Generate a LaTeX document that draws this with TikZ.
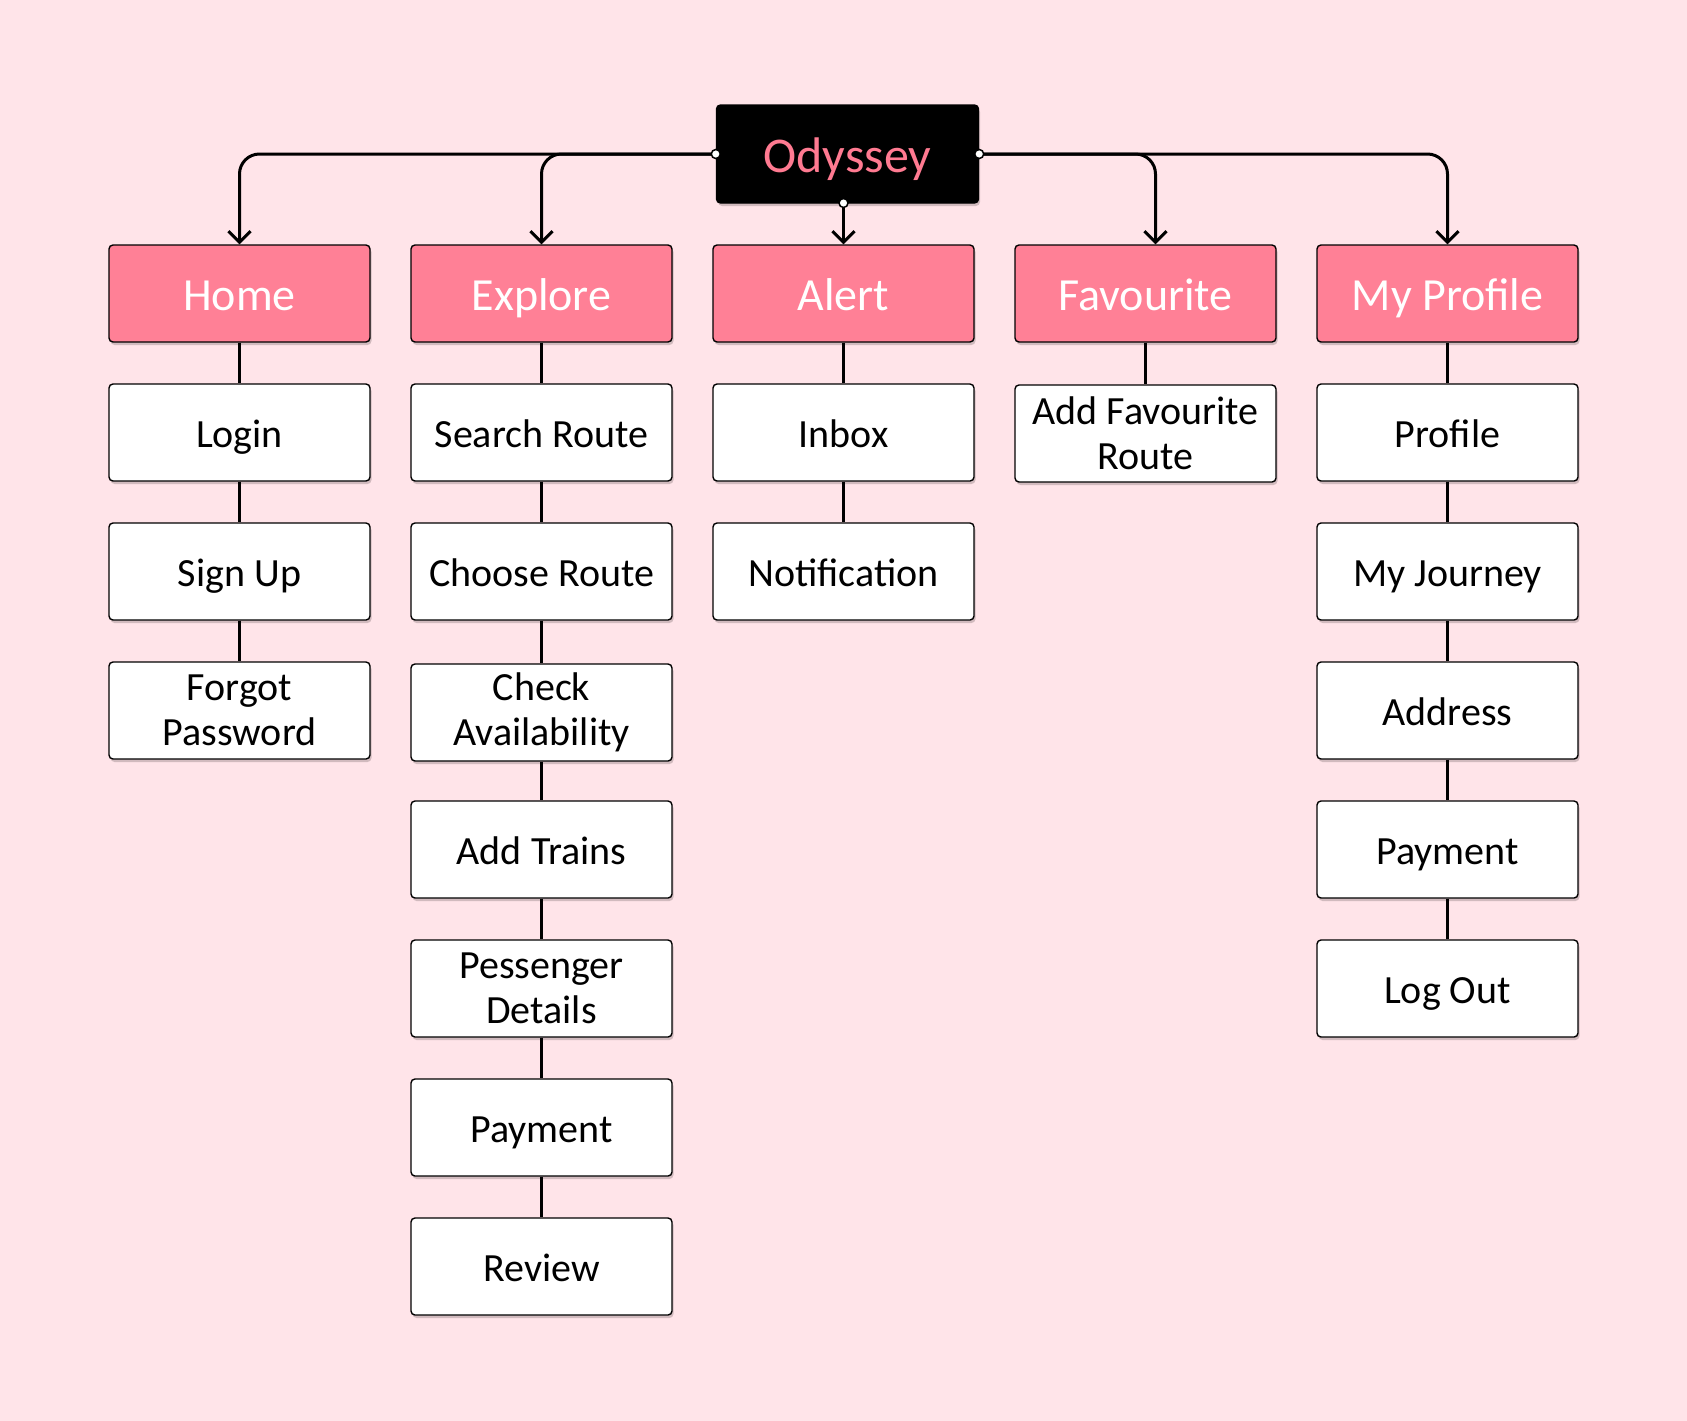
\documentclass[tikz,border=0pt]{standalone}
\usepackage{fontspec}
\setmainfont{Carlito}
\usetikzlibrary{arrows.meta,shadows}
\definecolor{bgpink}{RGB}{255,228,233}
\definecolor{hdrpink}{RGB}{255,128,150}
\definecolor{rootpink}{RGB}{255,122,145}
\begin{document}
\begin{tikzpicture}[x=1pt,y=-1pt,
 box/.style={draw=black, line width=1.4pt, rounded corners=4pt, minimum width=261pt, minimum height=97pt, inner sep=0pt, align=center, drop shadow={shadow xshift=1.5pt,shadow yshift=-3pt,opacity=0.18,fill=black}},
 sub/.style={box, fill=white, text=black, font=\fontsize{40}{45}\selectfont},
 one/.style={text height=30pt, text depth=0pt},
 hdr/.style={box, text height=34.5pt, text depth=0pt, fill=hdrpink, text=white, font=\fontsize{46}{50}\selectfont},
 rootbox/.style={box, text height=37.5pt, text depth=0pt, fill=black, text=rootpink, minimum width=262pt, minimum height=98pt, font=\fontsize{50}{54}\selectfont},
 link/.style={line width=3pt},
 arr/.style={line width=3pt, rounded corners=20pt, -{Straight Barb[length=11pt,width=22pt]}},
 dot/.style={circle, draw=black, fill=white, line width=1.5pt, minimum size=9pt, inner sep=0pt}]
\fill[bgpink] (0,0) rectangle (1687,1421);
\useasboundingbox (0,0) rectangle (1687,1421);

\node[rootbox] (root) at (847.5,154) {Odyssey};

% headers
\node[hdr] (home) at (239.5,293.5) {Home};
\node[hdr] (explore) at (541.5,293.5) {Explore};
\node[hdr] (alert) at (843.5,293.5) {Alert};
\node[hdr] (fav) at (1145.5,293.5) {Favourite};
\node[hdr] (prof) at (1447.5,293.5) {My Profile};

% Home column
\node[sub,one] (login) at (239.5,432.5) {Login};
\node[sub,one] (signup) at (239.5,571.5) {Sign Up};
\node[sub] (forgot) at (239.5,710.5) {Forgot\\Password};

% Explore column
\node[sub,one] (search) at (541.5,432.5) {Search Route};
\node[sub,one] (choose) at (541.5,571.5) {Choose Route};
\node[sub] (check) at (541.5,712.5) {Check\\Availability};
\node[sub,one] (trains) at (541.5,849.5) {Add Trains};
\node[sub] (pess) at (541.5,988.5) {Pessenger\\Details};
\node[sub,one] (epay) at (541.5,1127.5) {Payment};
\node[sub,one] (review) at (541.5,1266.5) {Review};

% Alert column
\node[sub,one] (inbox) at (843.5,432.5) {Inbox};
\node[sub,one] (notif) at (843.5,571.5) {Notification};

% Favourite column
\node[sub] (addfav) at (1145.5,433.5) {Add Favourite\\Route};

% Profile column
\node[sub,one] (profile) at (1447.5,432.5) {Profile};
\node[sub,one] (journey) at (1447.5,571.5) {My Journey};
\node[sub,one] (address) at (1447.5,710.5) {Address};
\node[sub,one] (ppay) at (1447.5,849.5) {Payment};
\node[sub,one] (logout) at (1447.5,988.5) {Log Out};

% vertical links
\draw[link] (home) -- (login);
\draw[link] (login) -- (signup);
\draw[link] (signup) -- (forgot);
\draw[link] (explore) -- (search);
\draw[link] (search) -- (choose);
\draw[link] (choose) -- (check);
\draw[link] (check) -- (trains);
\draw[link] (trains) -- (pess);
\draw[link] (pess) -- (epay);
\draw[link] (epay) -- (review);
\draw[link] (alert) -- (inbox);
\draw[link] (inbox) -- (notif);
\draw[link] (fav) -- (addfav);
\draw[link] (prof) -- (profile);
\draw[link] (profile) -- (journey);
\draw[link] (journey) -- (address);
\draw[link] (address) -- (ppay);
\draw[link] (ppay) -- (logout);

% root connectors
\coordinate (ld) at (root.west);
\coordinate (rd) at (root.east);
\coordinate (bd) at (843.5,203);
\draw[arr] (ld) -| (home.north);
\draw[arr] (ld) -| (explore.north);
\draw[arr] (bd) -- (alert.north);
\draw[arr] (rd) -| ([xshift=10pt]fav.north);
\draw[arr] (rd) -| (prof.north);

\node[dot] (dl) at (ld) {};
\node[dot] (dr) at (rd) {};
\node[dot] (db) at (bd) {};
\end{tikzpicture}
\end{document}
